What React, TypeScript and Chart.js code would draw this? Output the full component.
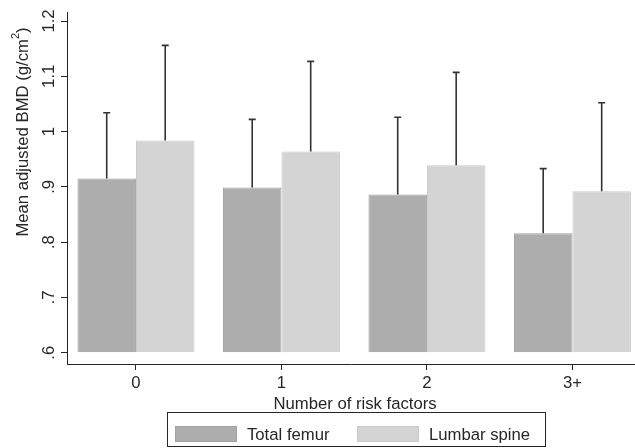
import { useEffect, useRef } from 'react';
import { Chart, registerables } from 'chart.js';

Chart.register(...registerables);

const categories = ['0', '1', '2', '3+'];
const femurMean = [0.915, 0.899, 0.886, 0.816];
const femurUpper = [1.034, 1.022, 1.026, 0.933];
const spineMean = [0.984, 0.964, 0.939, 0.892];
const spineUpper = [1.156, 1.127, 1.107, 1.052];
const seriesLabels = ['Total femur', 'Lumbar spine'];
const yTickValues = [0.6, 0.7, 0.8, 0.9, 1.0, 1.1, 1.2];
const yTickLabels = ['.6', '.7', '.8', '.9', '1', '1.1', '1.2'];
const xTitle = 'Number of risk factors';
const yTitleMain = 'Mean adjusted BMD (g/cm';
const yTitleSup = '2';
const yTitleEnd = ')';

const FONT = "'Liberation Sans', Arial, Helvetica, sans-serif";
const FS = 16.7;
const TEXT = '#262626';
const AXIS = '#262626';
const FEMUR_FILL = '#adadad';
const FEMUR_BORDER = '#a2a2a2';
const SPINE_FILL = '#d3d4d3';
const SPINE_BORDER = '#c8c9c8';

const upperSets = [femurUpper, spineUpper];

const decorPlugin = {
  id: 'decor',
  afterDatasetsDraw(chart: any) {
    const ctx = chart.ctx;
    const ys = chart.scales.y;
    ctx.save();
    ctx.strokeStyle = '#333333';
    ctx.lineWidth = 1.6;
    chart.data.datasets.forEach((ds: any, di: number) => {
      const meta = chart.getDatasetMeta(di);
      meta.data.forEach((el: any, i: number) => {
        const top = ys.getPixelForValue(upperSets[di][i]);
        ctx.beginPath();
        ctx.moveTo(el.x, el.y);
        ctx.lineTo(el.x, top);
        ctx.moveTo(el.x - 3.5, top);
        ctx.lineTo(el.x + 3.5, top);
        ctx.stroke();
      });
    });
    ctx.restore();
  },
  afterDraw(chart: any) {
    const ctx = chart.ctx;
    const ys = chart.scales.y;
    ctx.save();
    ctx.fillStyle = TEXT;
    ctx.font = `${FS}px ${FONT}`;
    yTickValues.forEach((v, i) => {
      const py = ys.getPixelForValue(v);
      ctx.save();
      ctx.translate(49, py);
      ctx.rotate(-Math.PI / 2);
      ctx.textAlign = 'center';
      ctx.textBaseline = 'middle';
      ctx.fillText(yTickLabels[i], 0, 0);
      ctx.restore();
    });
    ctx.save();
    ctx.translate(23, 132);
    ctx.rotate(-Math.PI / 2);
    ctx.textBaseline = 'middle';
    ctx.textAlign = 'left';
    ctx.font = `${FS}px ${FONT}`;
    const wMain = ctx.measureText(yTitleMain).width;
    const wEnd = ctx.measureText(yTitleEnd).width;
    ctx.font = `11px ${FONT}`;
    const wSup = ctx.measureText(yTitleSup).width;
    let x0 = -(wMain + wSup + wEnd) / 2;
    ctx.font = `${FS}px ${FONT}`;
    ctx.fillText(yTitleMain, x0, 0);
    x0 += wMain;
    ctx.font = `11px ${FONT}`;
    ctx.fillText(yTitleSup, x0, -7);
    x0 += wSup;
    ctx.font = `${FS}px ${FONT}`;
    ctx.fillText(yTitleEnd, x0, 0);
    ctx.restore();
    ctx.textAlign = 'center';
    ctx.textBaseline = 'middle';
    ctx.font = `${FS}px ${FONT}`;
    ctx.fillText(xTitle, 355, 404);
    ctx.strokeStyle = AXIS;
    ctx.lineWidth = 1;
    ctx.strokeRect(167.5, 412.5, 378, 34);
    const sw = [
      { x: 175, tx: 247 },
      { x: 357, tx: 429 },
    ];
    chart.data.datasets.forEach((ds: any, di: number) => {
      ctx.fillStyle = ds.backgroundColor;
      ctx.fillRect(sw[di].x, 426, 62, 16);
      ctx.strokeStyle = ds.borderColor;
      ctx.strokeRect(sw[di].x + 0.5, 426.5, 61, 15);
      ctx.fillStyle = TEXT;
      ctx.textAlign = 'left';
      ctx.textBaseline = 'middle';
      ctx.fillText(ds.label, sw[di].tx, 435);
    });
    ctx.restore();
  },
};

export default function App() {
  const ref = useRef<HTMLCanvasElement | null>(null);
  useEffect(() => {
    if (!ref.current) return;
    const chart = new Chart(ref.current, {
      type: 'bar',
      data: {
        datasets: [
          {
            label: seriesLabels[0],
            data: femurMean.map((v, i) => ({ x: i, y: v })),
            backgroundColor: FEMUR_FILL,
            borderColor: FEMUR_BORDER,
            borderWidth: 1,
            base: 0.6,
            categoryPercentage: 0.804,
            barPercentage: 1,
          } as any,
          {
            label: seriesLabels[1],
            data: spineMean.map((v, i) => ({ x: i, y: v })),
            backgroundColor: SPINE_FILL,
            borderColor: SPINE_BORDER,
            borderWidth: 1,
            base: 0.6,
            categoryPercentage: 0.804,
            barPercentage: 1,
          } as any,
        ],
      },
      options: {
        animation: false,
        responsive: true,
        maintainAspectRatio: false,
        layout: { padding: { left: 0, right: 0, top: 12, bottom: 0 } },
        plugins: { legend: { display: false }, tooltip: { enabled: false } },
        scales: {
          x: {
            type: 'linear',
            offset: false,
            min: -0.474,
            max: 3.43,
            afterBuildTicks: (s: any) => {
              s.ticks = categories.map((_, i) => ({ value: i }));
            },
            afterFit: (s: any) => {
              s.height = 84;
            },
            grid: {
              display: true,
              offset: false,
              drawOnChartArea: false,
              drawTicks: true,
              tickLength: 6,
              color: AXIS,
            },
            border: { display: true, color: AXIS, width: 1 },
            ticks: {
              padding: 3,
              color: TEXT,
              font: { family: FONT, size: FS },
              maxRotation: 0,
              autoSkip: false,
              callback: (v: any) => categories[Math.round(Number(v))] ?? '',
            },
          },
          y: {
            type: 'linear',
            min: 0.5795,
            max: 1.2163,
            afterBuildTicks: (s: any) => {
              s.ticks = yTickValues.map((v) => ({ value: v }));
            },
            afterFit: (s: any) => {
              s.width = 67;
            },
            grid: {
              display: true,
              drawOnChartArea: false,
              drawTicks: true,
              tickLength: 6,
              color: AXIS,
            },
            border: { display: true, color: AXIS, width: 1 },
            ticks: { display: false },
          },
        },
      } as any,
      plugins: [decorPlugin],
    });
    return () => chart.destroy();
  }, []);
  return (
    <div style={{ position: 'fixed', left: 0, top: 0, width: 635, height: 448, background: '#fff' }}>
      <canvas ref={ref} />
    </div>
  );
}
